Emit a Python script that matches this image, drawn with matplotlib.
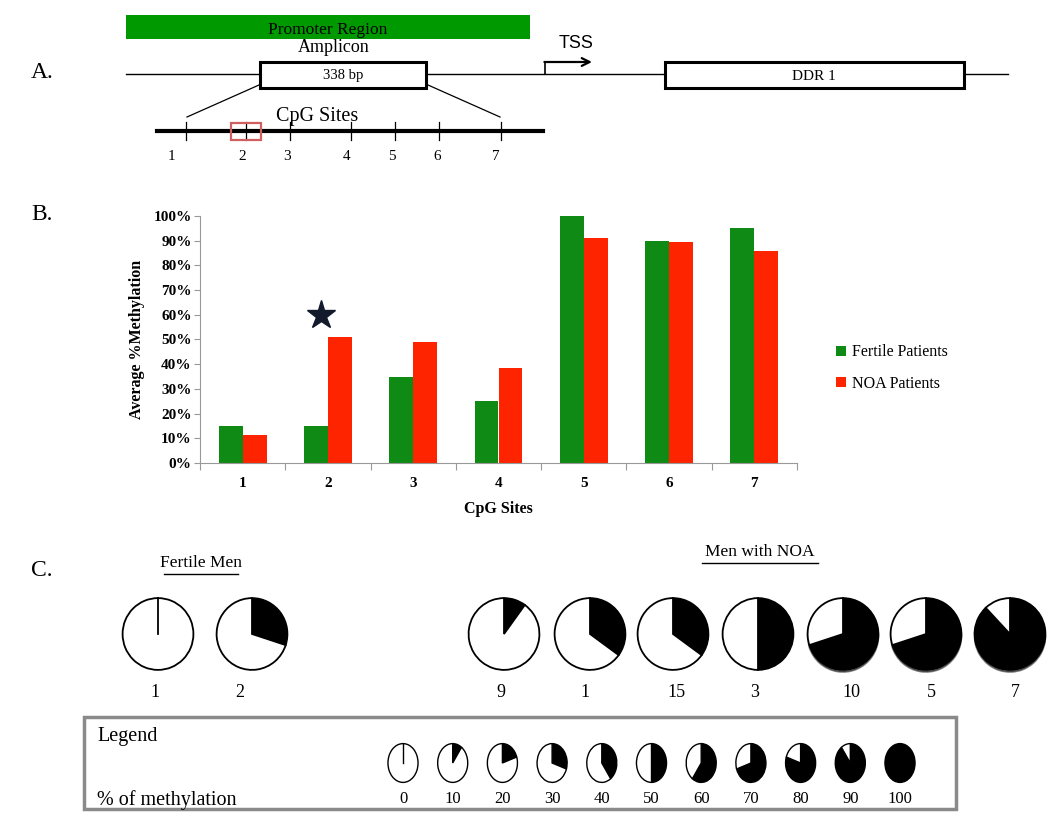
import matplotlib
matplotlib.use('Agg')
import matplotlib.pyplot as plt
from matplotlib.patches import Rectangle

# ---- data ----
cpg_sites = ['1', '2', '3', '4', '5', '6', '7']
fertile_pct = [15, 15, 35, 25, 100, 90, 95]
noa_pct = [11.5, 51, 49, 38.5, 91, 89.5, 86]
star_site = 1          # index of the significant site
star_value = 60

fertile_ids = ['1', '2']
fertile_meth = [0, 30]
noa_ids = ['9', '1', '15', '3', '10', '5', '7']
noa_meth = [10, 35, 35, 50, 70, 70, 88]
legend_levels = [0, 10, 20, 30, 40, 50, 60, 70, 80, 90, 100]

# schematic positions of the CpG sites on the zoomed amplicon (px)
cpg_tick_x = [186, 246, 290, 351, 395, 439, 501]
cpg_label_x = [171, 242, 287, 347, 392, 437, 496]

GREEN = '#0f8a14'
RED = '#ff2400'
SERIF = 'Liberation Serif'

W, H = 1050, 813
fig = plt.figure(figsize=(W / 100, H / 100), dpi=100)
canvas = fig.add_axes([0, 0, 1, 1])
canvas.set_xlim(0, W)
canvas.set_ylim(H, 0)
canvas.axis('off')


def txt(x, y, s, size, **kw):
    kw.setdefault('ha', 'center')
    kw.setdefault('va', 'center')
    kw.setdefault('family', SERIF)
    kw.setdefault('zorder', 5)
    canvas.text(x, y, s, fontsize=size, **kw)


# ---- panel A ----
txt(42, 72, 'A.', 17)
canvas.add_patch(Rectangle((126, 15), 404, 24, color='#009a00', lw=0))
txt(328, 30, 'Promoter Region', 12.5)
txt(334, 48, 'Amplicon', 13)
canvas.plot([126, 1008], [74, 74], color='black', lw=1)
canvas.add_patch(Rectangle((260, 62), 166, 26, fc='white', ec='black', lw=2.2, zorder=3))
txt(343, 76, '338 bp', 10.5)
canvas.add_patch(Rectangle((665, 62), 299, 26, fc='white', ec='black', lw=2.2, zorder=3))
txt(814, 76, 'DDR 1', 11)
canvas.plot([545, 545], [74, 62], color='black', lw=1.2)
canvas.annotate('', xy=(592, 62), xytext=(544.4, 62),
                arrowprops=dict(arrowstyle='->', color='black', lw=1.6,
                                mutation_scale=14, shrinkA=0, shrinkB=0))
txt(576, 44, 'TSS', 13, family='Liberation Sans')
canvas.plot([259, 187], [85, 117], color='black', lw=0.9)
canvas.plot([428, 500], [85, 117], color='black', lw=0.9)
canvas.plot([157, 543], [131, 131], color='black', lw=3)
for x in cpg_tick_x:
    canvas.plot([x, x], [122, 140], color='black', lw=0.9)
canvas.add_patch(Rectangle((231, 123), 30, 17, fc='none', ec='#d06060', lw=1.6, zorder=4))
txt(317, 117, 'CpG Sites', 14.5)
for x, s in zip(cpg_label_x, cpg_sites):
    txt(x, 156, s, 11)

# ---- panel B ----
txt(42, 214, 'B.', 17)
ax = fig.add_axes([200 / W, 1 - 463 / H, 597 / W, 247 / H])
xs = range(len(cpg_sites))
bw = 0.28
ax.bar([x - bw / 2 for x in xs], fertile_pct, bw, color=GREEN, label='Fertile Patients')
ax.bar([x + bw / 2 for x in xs], noa_pct, bw, color=RED, label='NOA Patients')
ax.plot(star_site - bw / 2 + 0.06, star_value, marker='*', markersize=21, color='#121a2c')
ax.set_xlim(-0.5, len(cpg_sites) - 0.5)
ax.set_ylim(0, 100)
ax.set_yticks(range(0, 101, 10))
ax.set_yticklabels(['%d%%' % v for v in range(0, 101, 10)])
ax.set_xticks([x - 0.5 for x in range(len(cpg_sites) + 1)])
ax.set_xticklabels([])
ax.set_xticks(list(xs), minor=True)
ax.set_xticklabels(cpg_sites, minor=True)
ax.tick_params(axis='x', which='major', length=5, color='#999999', direction='out')
ax.tick_params(axis='x', which='minor', length=0, pad=10)
ax.tick_params(axis='y', length=4, color='#999999', pad=2)
for lab in ax.get_xticklabels(minor=True) + ax.get_yticklabels():
    lab.set_fontfamily(SERIF)
    lab.set_fontweight('bold')
    lab.set_fontsize(11)
for side in ['top', 'right']:
    ax.spines[side].set_visible(False)
for side in ['left', 'bottom']:
    ax.spines[side].set_color('#999999')
ax.set_xlabel('CpG Sites', fontfamily=SERIF, fontweight='bold', fontsize=11.5, labelpad=8)
ax.set_ylabel('Average %Methylation', fontfamily=SERIF, fontweight='bold', fontsize=11.5, labelpad=6)
ax.legend(loc='center left', bbox_to_anchor=(822 / W, 1 - 368 / H), bbox_transform=fig.transFigure,
          frameon=False, handlelength=0.6, handleheight=0.6, handletextpad=0.35, labelspacing=0.95,
          prop={'family': SERIF, 'size': 11.5})


# ---- panel C ----
def pie_at(cx, cy, w, h, pct, shadow=False):
    pa = fig.add_axes([(cx - w / 2) / W, 1 - (cy + h / 2) / H, w / W, h / H])
    lw = 1.3 if w > 50 else 1.0
    r = 0.97
    pa.pie([pct, 100 - pct], colors=['black', 'white'], startangle=90, counterclock=False,
           wedgeprops=dict(edgecolor='black', linewidth=lw), radius=r,
           shadow={'ox': 0.0, 'oy': -0.04, 'shade': 0.35} if shadow else False)
    if pct == 0:
        pa.plot([0, 0], [0, r], color='black', lw=lw)
    pa.set_aspect('auto')
    pa.set_xlim(-1, 1)
    pa.set_ylim(-1, 1)
    pa.axis('off')


txt(42, 570, 'C.', 17)
txt(201, 563, 'Fertile Men', 12.5)
canvas.plot([164, 238], [574, 574], color='black', lw=1)
txt(760, 552, 'Men with NOA', 12.5)
canvas.plot([702, 818], [563, 563], color='black', lw=1)

fert_cx = [158, 252]
fert_lx = [155, 240]
for cx, lx, pid, m in zip(fert_cx, fert_lx, fertile_ids, fertile_meth):
    pie_at(cx, 634, 73, 74, m)
    txt(lx, 692, pid, 13)

noa_cx = [504, 590, 673, 758, 843, 926, 1010]
noa_lx = [501, 585, 676, 755, 851, 931, 1015]
for cx, lx, pid, m in zip(noa_cx, noa_lx, noa_ids, noa_meth):
    pie_at(cx, 634, 73, 74, m, shadow=m >= 70)
    txt(lx, 692, pid, 13)

# legend box
canvas.add_patch(Rectangle((84, 717), 872, 92, fc='none', ec='#8a8a8a', lw=2.5))
txt(97, 736, 'Legend', 14.5, ha='left')
txt(97, 800, '% of methylation', 14.5, ha='left')
for i, lvl in enumerate(legend_levels):
    cx = 403 + i * 49.7
    pie_at(cx, 763, 31, 40, lvl)
    txt(cx, 799, str(lvl), 12)

fig.savefig('out.png', dpi=100)
